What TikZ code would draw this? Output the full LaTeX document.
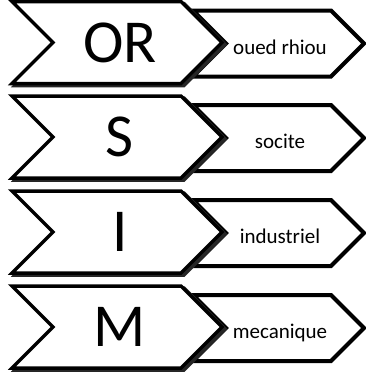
\documentclass[tikz,border=0pt]{standalone}
\usepackage{fontspec}
\setmainfont{Carlito}
\begin{document}
\begin{tikzpicture}[x=1pt,y=-1pt,
 bigline/.style={draw=black,line width=3.5pt,fill=white,line join=miter},
 shadowshape/.style={draw=black!85,line width=3.5pt,fill=black!85,line join=miter},
 smallline/.style={draw=black,line width=4pt,fill=white,line join=miter},
 bigtext/.style={font=\fontsize{61}{61}\selectfont,inner sep=0pt,anchor=base},
 smalltext/.style={font=\fontsize{21}{21}\selectfont,inner sep=0pt,anchor=base}]
\useasboundingbox (0,0) rectangle (366,376);
\foreach \c/\L/\T [count=\i] in {42.5/OR/oued rhiou,137/S/socite,232/I/industriel,327/M/mecanique}{
  \draw[smallline] (193,\c-32) -- (331,\c-32) -- (364,\c+1) -- (331,\c+34) -- (193,\c+34) -- (226,\c+1) -- cycle;
  \draw[shadowshape,shift={(3,2)}] (12,\c-41) -- (181,\c-41) -- (222,\c) -- (181,\c+41) -- (12,\c+41) -- (53,\c) -- cycle;
  \draw[bigline] (12,\c-41) -- (181,\c-41) -- (222,\c) -- (181,\c+41) -- (12,\c+41) -- (53,\c) -- cycle;
  \node[bigtext] (L\i) at (120,\c+19.5) {\L};
  \node[smalltext] (T\i) at (280,\c+11.5) {\T};
}
\end{tikzpicture}
\end{document}
